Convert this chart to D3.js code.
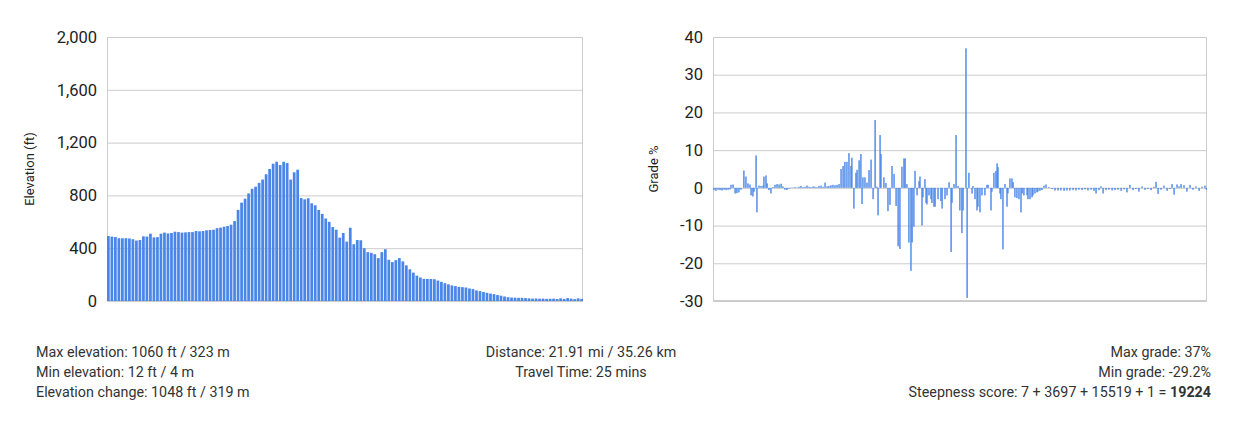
<!DOCTYPE html>
<html>
<head>
<meta charset="utf-8">
<script src="https://cdn.jsdelivr.net/npm/d3@7"></script>
<style>
  body { margin: 0; background: #fff; }
  svg text { font-family: Roboto, Arial, sans-serif; }
</style>
</head>
<body>
<div id="chart"></div>
<script>
// elevation profile (ft), one bar per sample along the route
const elevFt = [
  492,488,485,476,475,476,474,468,458,462,490,488,510,482,484,510,518,
  512,515,525,522,518,520,522,522,530,528,
  530,536,538,540,552,556,563,568,578,605,
  690,745,775,815,850,866,895,920,960,1000,
  1040,1055,1030,1055,1045,920,975,995,780,770,
  778,740,725,690,660,625,600,560,540,480,
  515,450,555,430,462,460,400,370,365,355,
  325,370,392,312,295,310,325,300,270,240,
  215,192,178,168,167,167,165,155,145,135,
  126,118,113,107,105,102,95,90,80,75,
  68,62,56,52,45,40,34,29,26,25,
  24,24,22,20,18,19,17,18,16,17,
  18,15,20,16,22,18,14,20,16
];
const elevTicks = [0, 400, 800, 1200, 1600, 2000];

// grade (%) against distance (mi)
const gradeMi = [
  0.04,0.13,0.22,0.31,0.40,0.49,0.58,0.67,0.75,0.80,
  0.89,0.98,1.06,1.15,1.24,1.37,1.46,1.55,1.64,1.69,
  1.77,1.82,1.91,1.95,2.04,2.13,2.22,2.26,2.35,2.40,
  2.48,2.57,2.66,2.75,2.84,2.93,3.02,3.10,3.19,3.28,
  3.37,3.46,3.55,3.64,3.73,3.81,3.90,3.99,4.08,4.17,
  4.26,4.35,4.44,4.52,4.61,4.70,4.79,4.88,4.97,5.06,
  5.14,5.23,5.32,5.41,5.50,5.59,
  5.68,5.77,5.85,5.94,6.03,6.12,6.16,6.25,6.34,6.39,
  6.48,6.56,6.61,6.65,6.74,6.83,6.92,7.01,7.10,7.19,
  7.27,7.32,7.41,7.45,7.58,7.67,7.76,7.85,7.94,8.03,
  8.12,8.21,8.29,8.38,8.47,8.52,8.60,8.69,8.78,8.83,
  8.91,8.96,9.05,9.14,9.18,9.27,9.31,9.40,9.45,9.49,
  9.58,9.67,9.71,9.80,9.85,9.98,10.11,10.16,10.29,10.38,
  10.47,10.56,10.60,10.69,10.78,10.87,10.95,11.04,11.09,11.22,
  11.27,11.35,11.49,11.53,11.62,11.71,11.75,11.84,11.93,12.06,
  12.15,12.20,12.33,12.37,12.46,12.55,12.60,12.64,12.73,12.77,
  12.86,12.95,13.04,13.08,13.17,13.26,13.31,13.39,13.48,13.57,
  13.66,13.71,13.79,13.93,13.97,14.06,14.15,14.19,14.28,14.37,
  14.41,14.50,14.59,
  14.68,14.77,14.90,15.04,15.17,15.30,15.43,15.57,15.70,15.83,
  15.97,16.10,16.23,16.37,16.50,16.63,16.77,16.90,16.99,17.12,
  17.21,17.30,17.43,17.56,17.70,17.83,17.96,18.10,18.23,18.36,
  18.49,18.63,18.76,18.89,19.03,19.16,19.29,19.43,19.56,19.65,
  19.74,19.87,20.00,20.14,20.27,20.36,20.45,20.58,20.67,20.76,
  20.89,21.02,21.16,21.29,21.42,21.56,21.69,21.82,21.88
];
const gradePct = [
  -0.6,-0.8,-0.5,-0.6,-0.7,-0.5,-0.6,-0.5,-0.4,0.8,
  0.9,-1.5,-1.4,-1.2,-0.5,4.6,3.0,1.2,0.9,-2.0,
  -2.3,-1.0,8.6,-6.5,0.6,0.5,0.6,3.0,3.3,1.2,
  -0.6,-1.5,0.2,0.8,1.0,0.9,1.1,0.4,-0.5,-0.6,
  -0.2,0.1,0.1,0.2,0.1,0.3,0.5,0.2,0.3,0.6,
  0.3,0.2,0.4,0.3,0.2,0.5,0.6,0.3,1.4,0.4,
  0.5,0.7,0.8,0.7,0.8,1.0,
  5.0,5.8,6.9,6.9,9.2,5.8,8.0,-5.5,4.0,4.8,
  7.3,9.0,-4.3,2.8,2.8,1.4,4.7,7.5,-3.0,18.0,
  0.3,-7.3,14.0,9.0,2.8,1.3,-6.2,-4.5,5.8,3.7,
  -4.8,-15.5,-16.2,5.6,7.8,7.8,1.0,-14.5,-22.0,-14.5,
  -10.3,4.5,-2.0,1.8,3.0,-10.0,-2.5,2.3,-4.0,-4.4,
  -2.0,-3.0,-4.0,-5.0,-5.0,-3.0,-3.5,-5.5,-3.0,-2.0,
  1.5,-17.0,-4.0,1.0,14.0,0.5,-6.0,-12.0,-6.0,37.0,
  -29.2,4.0,-1.5,0.5,-3.0,-6.0,-5.0,-6.5,-2.0,-2.0,
  0.8,0.8,-6.0,-1.0,4.0,4.5,6.5,5.5,-1.5,-3.0,
  -16.3,1.0,-5.0,-1.5,2.5,2.5,1.5,-2.5,-2.7,-3.0,
  -6.5,-1.5,-2.0,-2.0,-3.0,-3.0,-2.5,-2.0,-1.5,-1.2,
  -1.0,-0.8,-0.6,
  0.6,0.9,0.2,-0.3,-0.7,-0.7,-0.7,-0.8,-0.7,-0.7,
  -0.6,-0.7,-0.5,-0.6,-0.4,-0.7,-0.5,-0.8,-1.5,-0.6,
  0.4,-1.5,-0.6,-0.5,-0.7,-0.6,-0.5,-0.8,-0.4,-1.2,
  0.8,-0.6,-0.3,-1.0,0.4,-0.5,-0.3,-0.6,0.3,1.6,
  -1.6,-0.5,0.6,-0.8,-0.3,1.0,-1.8,0.9,0.4,1.0,
  0.7,-1.0,0.8,-0.5,0.4,-0.8,0.3,0.6,-0.5
];
const gradeTicks = [-30, -20, -10, 0, 10, 20, 30, 40];
const totalMi = 21.91;

const statsLeft = [
  "Max elevation: 1060 ft / 323 m",
  "Min elevation: 12 ft / 4 m",
  "Elevation change: 1048 ft / 319 m"
];
const statsMid = ["Distance: 21.91 mi / 35.26 km", "Travel Time: 25 mins"];
const statsRight = ["Max grade: 37%", "Min grade: -29.2%"];
const steepParts = "Steepness score: 7 + 3697 + 15519 + 1 = ";
const steepTotal = "19224";

const W = 1252, H = 445;
const plotTop = 37, plotBottom = 301;
const barColor = "#4a86e8";
const gridColor = "#cccccc";

var svg = d3.select("#chart")
  .append("svg")
  .attr("width", W)
  .attr("height", H);

function gridAxis(g, y, ticks, left, right, fmt) {
  g.attr("transform", "translate(" + left + ",0)")
    .call(d3.axisLeft(y).tickValues(ticks).tickSize(-(right - left)).tickPadding(10).tickFormat(fmt))
    .call(g => g.select(".domain").remove())
    .call(g => g.selectAll(".tick line").attr("stroke", gridColor))
    .call(g => g.selectAll(".tick text")
      .attr("font-size", "16.5px")
      .attr("fill", "#222")
      .attr("font-family", "Roboto, Arial, sans-serif"));
}

function frame(left, right) {
  svg.append("rect")
    .attr("x", left + 0.5)
    .attr("y", plotTop + 0.5)
    .attr("width", right - left - 1)
    .attr("height", plotBottom - plotTop - 1)
    .attr("fill", "none")
    .attr("stroke", gridColor);
}

// ---- elevation chart ----
const eLeft = 107, eRight = 583;
var xE = d3.scaleBand()
  .domain(d3.range(elevFt.length))
  .range([eLeft, eRight])
  .paddingInner(0.22);
var yE = d3.scaleLinear().domain([0, 2000]).range([plotBottom, plotTop]);

svg.append("g").call(gridAxis, yE, elevTicks, eLeft, eRight, d3.format(","));
frame(eLeft, eRight);

svg.append("g")
  .selectAll("rect")
  .data(elevFt)
  .enter()
  .append("rect")
  .attr("x", (d, i) => xE(i))
  .attr("width", xE.bandwidth())
  .attr("y", d => yE(d))
  .attr("height", d => yE(0) - yE(d))
  .attr("fill", barColor);

svg.append("text")
  .attr("transform", "translate(34," + ((plotTop + plotBottom) / 2) + ") rotate(-90)")
  .attr("text-anchor", "middle")
  .attr("font-size", "13px")
  .attr("fill", "#222")
  .text("Elevation (ft)");

// ---- grade chart ----
const gLeft = 713, gRight = 1207;
var xG = d3.scaleLinear().domain([0, totalMi]).range([gLeft, gRight]);
var yG = d3.scaleLinear().domain([-30, 40]).range([plotBottom, plotTop]);

// plain hyphen for negatives, like the original
svg.append("g").call(gridAxis, yG, gradeTicks, gLeft, gRight, d => String(d));
frame(gLeft, gRight);

svg.append("g")
  .selectAll("rect")
  .data(gradePct)
  .enter()
  .append("rect")
  .attr("x", (d, i) => xG(gradeMi[i]) - 0.7)
  .attr("width", 1.4)
  .attr("y", d => Math.min(yG(d), yG(0)))
  .attr("height", d => Math.abs(yG(d) - yG(0)))
  .attr("fill", barColor);

svg.append("text")
  .attr("transform", "translate(658," + ((plotTop + plotBottom) / 2) + ") rotate(-90)")
  .attr("text-anchor", "middle")
  .attr("font-size", "13px")
  .attr("fill", "#222")
  .text("Grade %");

// ---- stats below ----
const lineY = [357, 377, 397];
var stats = svg.append("g")
  .attr("font-size", "14.3px")
  .attr("fill", "#333");

stats.selectAll(".sl")
  .data(statsLeft)
  .enter()
  .append("text")
  .attr("x", 36)
  .attr("y", (d, i) => lineY[i])
  .text(d => d);

stats.selectAll(".sm")
  .data(statsMid)
  .enter()
  .append("text")
  .attr("x", 581)
  .attr("y", (d, i) => lineY[i])
  .attr("text-anchor", "middle")
  .text(d => d);

stats.selectAll(".sr")
  .data(statsRight)
  .enter()
  .append("text")
  .attr("x", 1211)
  .attr("y", (d, i) => lineY[i])
  .attr("text-anchor", "end")
  .text(d => d);

var steep = stats.append("text")
  .attr("x", 1211)
  .attr("y", lineY[2])
  .attr("text-anchor", "end");
steep.append("tspan").text(steepParts);
steep.append("tspan").attr("font-weight", "bold").text(steepTotal);
</script>
</body>
</html>
